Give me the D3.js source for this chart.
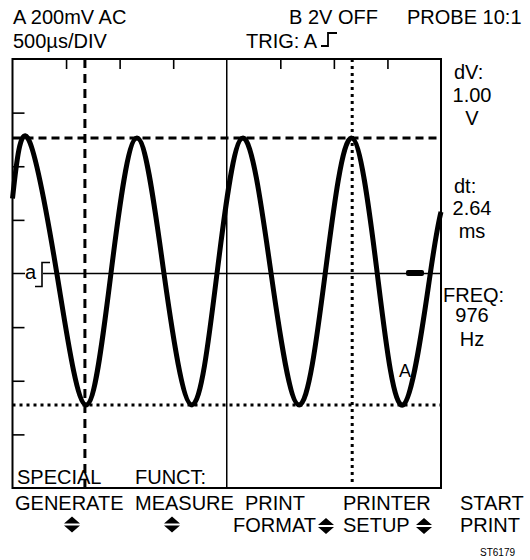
<!DOCTYPE html>
<html>
<head>
<meta charset="utf-8">
<script src="https://cdn.jsdelivr.net/npm/d3@7"></script>
<style>
  body { margin: 0; background: #fff; }
  svg text { font-family: "Liberation Sans", Arial, sans-serif; fill: #000; }
</style>
</head>
<body>
<div id="canvas"></div>
<script>
// waveform samples (time in ms, volts)
var waveT = [0, 0.143, 0.414, 0.685, 0.919, 1.162, 1.414, 1.676, 1.909, 2.152, 2.414, 2.676, 2.919, 3.162, 3.405, 3.648, 3.900, 4.0];
var waveV = [0.28, 0.505, 0, -0.49, 0, 0.505, 0, -0.49, 0, 0.505, 0, -0.49, 0, 0.505, 0, -0.49, 0, 0.23];

// cursors
var cursorV = [0.505, -0.49];   // dashed, dotted
var cursorT = [0.676, 3.171];   // dashed, dotted

// graticule divisions (500us/DIV, 200mV/DIV)
var timeDivs = [0.5, 1, 1.5, 2.5, 3, 3.5];
var voltDivs = [-0.6, -0.4, -0.2, 0.2, 0.4, 0.6];

// readouts
var headerTop = ['A 200mV AC', 'B 2V OFF', 'PROBE 10:1'];
var headerBot = ['500\u00b5s/DIV', 'TRIG: A'];
var readouts = [['dV:', '1.00', 'V'], ['dt:', '2.64', 'ms'], ['FREQ:', '976', 'Hz']];
var menuRow1 = ['GENERATE', 'MEASURE', 'PRINT', 'PRINTER', 'START'];
var menuRow2 = ['FORMAT', 'SETUP', 'PRINT'];

var W = 530, H = 560;
var box = {l: 12.5, r: 441, t: 59, b: 488};
var fs = 20;

var svg = d3.select('#canvas').append('svg')
    .attr('width', W).attr('height', H);

var x = d3.scaleLinear().domain([0, 4]).range([box.l, box.r]);
var y = d3.scaleLinear().domain([-0.8, 0.8]).range([box.b, box.t]);

// frame
svg.append('rect')
    .attr('x', box.l).attr('y', box.t)
    .attr('width', box.r - box.l).attr('height', box.b - box.t)
    .attr('fill', 'none').attr('stroke', '#000').attr('stroke-width', 2);

// inward ticks
var topAxis = svg.append('g').attr('transform', 'translate(0,' + box.t + ')')
    .call(d3.axisTop(x).tickValues(timeDivs).tickSize(-10).tickFormat(''));
var leftAxis = svg.append('g').attr('transform', 'translate(' + box.l + ',0)')
    .call(d3.axisLeft(y).tickValues(voltDivs).tickSize(-12).tickFormat(''));
[topAxis, leftAxis].forEach(function(a){
    a.select('.domain').remove();
    a.selectAll('line').attr('stroke', '#000').attr('stroke-width', 1.6);
});

// centre lines
svg.append('line')
    .attr('x1', x(2)).attr('x2', x(2)).attr('y1', box.t).attr('y2', box.b)
    .attr('stroke', '#000').attr('stroke-width', 1.5);
svg.append('line')
    .attr('x1', 43).attr('x2', box.r).attr('y1', y(0)).attr('y2', y(0))
    .attr('stroke', '#000').attr('stroke-width', 1.5);
svg.append('line')
    .attr('x1', box.l).attr('x2', 25).attr('y1', y(0)).attr('y2', y(0))
    .attr('stroke', '#000').attr('stroke-width', 1.5);

// trigger level marker "a"
svg.append('text').attr('x', 25).attr('y', y(0) + 5).attr('font-size', fs).text('a');
svg.append('path')
    .attr('d', 'M35,' + (y(0) + 13) + 'H42V' + (y(0) - 11) + 'H50')
    .attr('fill', 'none').attr('stroke', '#000').attr('stroke-width', 1.6);

// ground marker on right
svg.append('rect')
    .attr('x', 406).attr('y', y(0) - 3.5).attr('width', 18).attr('height', 6).attr('rx', 2)
    .attr('fill', '#000');

// cursors
var dashH = '8,5', dotH = '3,4';
svg.append('line')
    .attr('x1', box.l).attr('x2', box.r).attr('y1', y(cursorV[0])).attr('y2', y(cursorV[0]))
    .attr('stroke', '#000').attr('stroke-width', 3).attr('stroke-dasharray', dashH);
svg.append('line')
    .attr('x1', box.l).attr('x2', box.r).attr('y1', y(cursorV[1])).attr('y2', y(cursorV[1]))
    .attr('stroke', '#000').attr('stroke-width', 3).attr('stroke-dasharray', dotH);
svg.append('line')
    .attr('x1', x(cursorT[0])).attr('x2', x(cursorT[0])).attr('y1', box.t).attr('y2', box.b + 4)
    .attr('stroke', '#000').attr('stroke-width', 3).attr('stroke-dasharray', '9,6');
svg.append('line')
    .attr('x1', x(cursorT[1])).attr('x2', x(cursorT[1])).attr('y1', box.t).attr('y2', box.b - 4)
    .attr('stroke', '#000').attr('stroke-width', 3).attr('stroke-dasharray', dotH);

// waveform
var wave = waveT.map(function(t, i){ return {t: t, v: waveV[i]}; });
var line = d3.line()
    .x(function(d){ return x(d.t); })
    .y(function(d){ return y(d.v); })
    .curve(d3.curveNatural);
svg.append('path').datum(wave)
    .attr('d', line)
    .attr('fill', 'none').attr('stroke', '#000').attr('stroke-width', 5)
    .attr('stroke-linejoin', 'round').attr('stroke-linecap', 'butt');

svg.append('text').attr('x', 399).attr('y', 377).attr('font-size', 18).text('A');

// header
svg.append('text').attr('x', 13).attr('y', 24).attr('font-size', fs).text(headerTop[0]);
svg.append('text').attr('x', 289).attr('y', 24).attr('font-size', fs).text(headerTop[1]);
svg.append('text').attr('x', 407).attr('y', 24).attr('font-size', fs).text(headerTop[2]);
svg.append('text').attr('x', 13).attr('y', 48).attr('font-size', fs).text(headerBot[0]);
svg.append('text').attr('x', 246).attr('y', 48).attr('font-size', fs).text(headerBot[1]);
svg.append('path')
    .attr('d', 'M321,46H328V33H337')
    .attr('fill', 'none').attr('stroke', '#000').attr('stroke-width', 1.8);

// right readouts
var readY = [[79, 102, 125], [193, 215, 238], [302, 322, 346]];
readouts.forEach(function(g, i){
    g.forEach(function(s, j){
        var t = svg.append('text').attr('font-size', fs).attr('y', readY[i][j]).text(s);
        if (j === 0) t.attr('x', i === 2 ? 443 : 454);
        else t.attr('x', 472).attr('text-anchor', 'middle');
    });
});

// soft-key labels
svg.append('text').attr('x', 17).attr('y', 484).attr('font-size', fs).text('SPECIAL');
svg.append('text').attr('x', 135).attr('y', 484).attr('font-size', fs).text('FUNCT:');

var row1X = [15, 135, 245, 343, 460];
menuRow1.forEach(function(s, i){
    svg.append('text').attr('x', row1X[i]).attr('y', 510).attr('font-size', fs).text(s);
});
var row2X = [233, 343, 460];
menuRow2.forEach(function(s, i){
    svg.append('text').attr('x', row2X[i]).attr('y', 532).attr('font-size', fs).text(s);
});

// up/down arrow glyphs
function updown(cx, cy){
    svg.append('path')
        .attr('d', 'M' + (cx - 8) + ',' + (cy - 1) + 'L' + cx + ',' + (cy - 8) + 'L' + (cx + 8) + ',' + (cy - 1) + 'Z' +
                   'M' + (cx - 8) + ',' + (cy + 1) + 'L' + cx + ',' + (cy + 8) + 'L' + (cx + 8) + ',' + (cy + 1) + 'Z')
        .attr('fill', '#000');
}
updown(72, 524.5);
updown(172, 524.5);
updown(326, 526);
updown(424, 526);

svg.append('text').attr('x', 480).attr('y', 556).attr('font-size', 10).text('ST6179');
</script>
</body>
</html>
